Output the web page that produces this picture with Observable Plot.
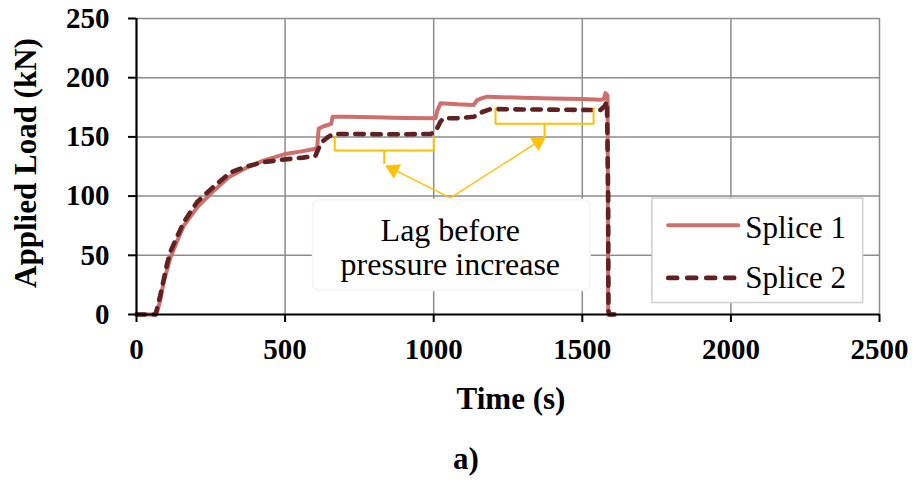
<!DOCTYPE html>
<html>
<head>
<meta charset="utf-8">
<script src="https://cdn.jsdelivr.net/npm/d3@7"></script>
<script src="https://cdn.jsdelivr.net/npm/@observablehq/plot@0.6"></script>
<style>
  html, body { margin: 0; padding: 0; background: #fff; }
  #chart { width: 916px; height: 486px; }
</style>
</head>
<body>
<div id="chart"></div>
<script>
// ---- Data ----
const seriesNames = ["Splice 1", "Splice 2"];
const xTicks = [0, 500, 1000, 1500, 2000, 2500];
const yTicks = [0, 50, 100, 150, 200, 250];

// Splice 1 : time (s) / applied load (kN)
const time1 = [0, 67, 80, 92, 114, 137, 159, 204, 260, 310, 370, 427, 501, 560, 602, 608, 613, 630, 655, 660, 709, 800, 900, 1006, 1012, 1023, 1080, 1135, 1146, 1163, 1180, 1300, 1400, 1500, 1561, 1572, 1578, 1585, 1586, 1587, 1594, 1611];
const load1 = [0, 0, 12, 28, 48, 62, 75, 90.5, 104.6, 116, 124, 130, 135.6, 138, 140, 141.4, 157, 159, 161, 167, 167, 166.5, 166, 165.8, 172, 178.5, 177.5, 177, 181, 182.7, 184, 183, 182.5, 182, 181.4, 182, 187, 185, 100, 3, 0, 0];

// Splice 2 : time (s) / applied load (kN)
const time2 = [0, 64, 80, 92, 103, 114, 137, 159, 204, 221, 260, 316, 370, 426, 500, 560, 602, 612, 625, 645, 662, 700, 800, 900, 990, 1006, 1015, 1023, 1034, 1080, 1135, 1150, 1163, 1191, 1300, 1400, 1500, 1561, 1575, 1583, 1587, 1588, 1590, 1611];
const load2 = [0, 0, 16, 30, 43, 53, 66, 78, 95, 99, 108, 120, 125, 128.6, 131, 132.5, 134, 140, 146, 150, 152.5, 152.5, 152.3, 152.2, 152.5, 154.5, 159, 163, 165.8, 165.8, 167, 169, 171, 173.5, 173.2, 173, 172.8, 172.7, 176, 180, 100, 3, 0, 0];

// Annotation: lag brackets (time span, top/bottom load, tick end load)
const bracketStart = [667, 1208];
const bracketEnd = [1000, 1538];
const bracketTop = [149.8, 174.2];
const bracketBottom = [138.6, 161.2];
const bracketTickEnd = [127.3, 149.8];
const annotationLines = ["Lag before", "pressure increase"];

// ---- Build tables ----
const splice1 = time1.map((t, i) => ({t, load: load1[i], series: seriesNames[0]}));
const splice2 = time2.map((t, i) => ({t, load: load2[i], series: seriesNames[1]}));

const bracketPts = [];
bracketStart.forEach((x1, i) => {
  const x2 = bracketEnd[i];
  const xc = (x1 + x2) / 2;
  const pts = [[x1, bracketTop[i]], [x1, bracketBottom[i]], [xc, bracketBottom[i]], [xc, bracketTickEnd[i]], [xc, bracketBottom[i]], [x2, bracketBottom[i]], [x2, bracketTop[i]]];
  pts.forEach(([x, y]) => bracketPts.push({x, y, id: i}));
});

// arrow origin (below the brackets, above the text box) and head centroids
const arrowOrigin = {x: 1056, y: 98.5};
const arrowHeads = [{x: 864, y: 122.5, rotate: -63.6}, {x: 1351, y: 145.8, rotate: 57.5}];

const C1 = "#cd706d";
const C2 = "#5f2122";
const YEL = "#ffc000";
const GRID = "#8c8c8c";
const FONT = "'Liberation Serif', 'Times New Roman', serif";
const fmt = d => String(d);

const chart = Plot.plot({
  width: 916,
  height: 486,
  marginLeft: 136,
  marginRight: 37,
  marginTop: 18,
  marginBottom: 172,
  style: {fontFamily: FONT, fontSize: "28px", color: "#000", background: "#fff", overflow: "visible"},
  x: {domain: [0, 2500], ticks: xTicks},
  y: {domain: [0, 250], ticks: yTicks},
  marks: [
    Plot.gridX(xTicks.slice(1), {stroke: GRID, strokeOpacity: 1, strokeWidth: 1.5}),
    Plot.gridY(yTicks.slice(1), {stroke: GRID, strokeOpacity: 1, strokeWidth: 1.5}),
    // text box behind the annotation
    Plot.rect([0], {x1: 595, x2: 1527, y1: 20, y2: 96.5, fill: "#fff", stroke: "#f6f6f6", strokeWidth: 2, rx: 6}),
    // legend box
    Plot.rect([0], {x1: 1736, x2: 2445, y1: 9.7, y2: 97.9, fill: "#fff", stroke: "#cfcfcf", strokeWidth: 1.5}),
    // series lines
    Plot.line(splice1, {x: "t", y: "load", stroke: C1, strokeWidth: 4, strokeLinejoin: "round", strokeLinecap: "round"}),
    Plot.line(splice2, {x: "t", y: "load", stroke: C2, strokeWidth: 4.6, strokeDasharray: "8.5 8.5", strokeLinejoin: "round", strokeLinecap: "round"}),
    // brackets
    Plot.line(bracketPts, {x: "x", y: "y", z: "id", stroke: YEL, strokeWidth: 2, strokeLinejoin: "miter"}),
    // arrows
    Plot.link(arrowHeads, {x1: () => arrowOrigin.x, y1: () => arrowOrigin.y, x2: "x", y2: "y", stroke: YEL, strokeWidth: 1.4}),
    Plot.dot(arrowHeads, {x: "x", y: "y", symbol: "triangle", r: 5.6, fill: YEL, stroke: YEL, strokeWidth: 0.5, rotate: "rotate"}),
    // annotation text
    Plot.text([annotationLines[0]], {x: 1056, y: 71, text: d => d, fontSize: 32, lineAnchor: "middle"}),
    Plot.text([annotationLines[1]], {x: 1056, y: 42.2, text: d => d, fontSize: 32, lineAnchor: "middle"}),
    // legend samples and labels
    Plot.line([[1789, 75.4], [2025, 75.4]], {stroke: C1, strokeWidth: 4, strokeLinecap: "round"}),
    Plot.line([[1789, 30.9], [2025, 30.9]], {stroke: C2, strokeWidth: 4.6, strokeDasharray: "9 10", strokeLinecap: "round"}),
    Plot.text([seriesNames[0]], {x: 2048, y: 73.3, text: d => d, textAnchor: "start", fontSize: 31}),
    Plot.text([seriesNames[1]], {x: 2048, y: 30.9, text: d => d, textAnchor: "start", fontSize: 31}),
    // axes
    Plot.axisX(xTicks, {tickSize: 8, tickPadding: 16, tickFormat: fmt, fontWeight: "bold", fontSize: 29, stroke: "#000", strokeWidth: 2, label: null}),
    Plot.axisY(yTicks, {tickSize: 8, tickPadding: 19, tickFormat: fmt, fontWeight: "bold", fontSize: 29, stroke: "#000", strokeWidth: 2, label: null}),
    Plot.ruleY([0], {stroke: "#000", strokeWidth: 2.2}),
    Plot.ruleX([0], {stroke: "#000", strokeWidth: 2.2}),
    // axis titles
    Plot.text(["Time (s)"], {frameAnchor: "bottom", dx: 3, dy: 94, text: d => d, fontWeight: "bold", fontSize: 31}),
    Plot.text(["Applied Load (kN)"], {frameAnchor: "left", textAnchor: "middle", dx: -110, dy: -3.5, rotate: -90, text: d => d, fontWeight: "bold", fontSize: 31}),
    Plot.text(["a)"], {frameAnchor: "bottom", dx: -42, dy: 154, text: d => d, fontWeight: "bold", fontSize: 31})
  ]
});
document.getElementById("chart").appendChild(chart);
</script>
</body>
</html>
